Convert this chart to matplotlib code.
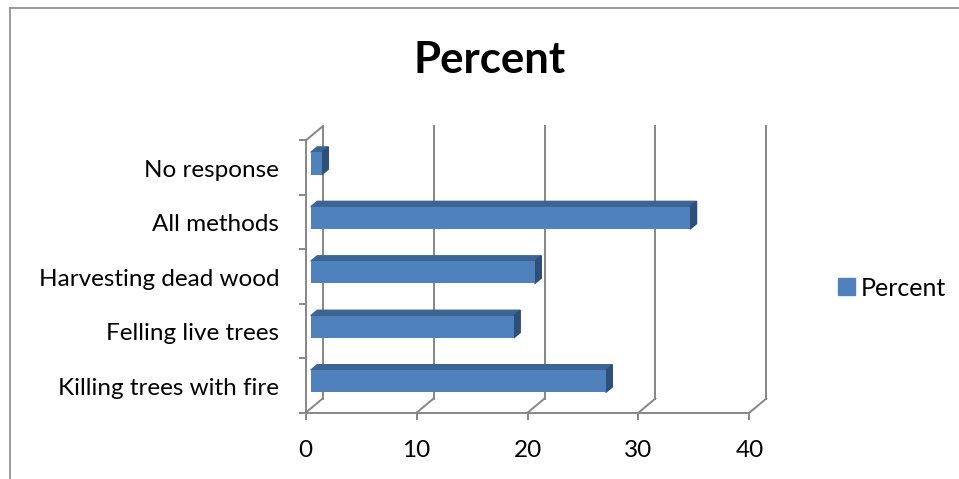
import matplotlib.pyplot as plt
from matplotlib.patches import Polygon, Patch
from matplotlib.lines import Line2D

categories = ['Killing trees with fire', 'Felling live trees', 'Harvesting dead wood',
              'All methods', 'No response']
percent = [26.6, 18.3, 20.2, 34.2, 1.0]
x_ticks = [0, 10, 20, 30, 40]

plt.rcParams['font.family'] = ['Lato', 'DejaVu Sans']

# depth of the 3-d box (data units) and where the bars sit inside it
DX, DY = 1.53, 0.26
F0, F1 = 0.30, 0.68
BAR_H = 0.41
GRID = '#868686'
FRONT, TOP, SIDE = '#4f81bd', '#3c6595', '#2d4f7a'
FS = 17.5

fig = plt.figure(figsize=(9.59, 4.79), dpi=100)
ax = fig.add_axes([0.3072, 0.1157, 0.5089, 0.6365])
ax.set_xlim(-1, 43)
ax.set_ylim(-0.7, 4.9)
ax.axis('off')

n = len(categories)
ybot, ytop = -0.5, n - 0.5

# walls and floor
for t in x_ticks:
    ax.plot([t + DX, t + DX], [ybot + DY, ytop + DY], color=GRID, lw=1.4, zorder=1)
    ax.plot([t, t + DX], [ybot, ybot + DY], color=GRID, lw=1.4, zorder=1)
    ax.plot([t, t], [ybot, ybot - 0.11], color=GRID, lw=1.4, zorder=1)
    ax.text(t, ybot - 0.69, str(t), ha='center', va='center', fontsize=FS)
ax.plot([x_ticks[0], x_ticks[-1]], [ybot, ybot], color=GRID, lw=1.4, zorder=1)
ax.plot([0, 0], [ybot, ytop], color=GRID, lw=1.4, zorder=1)
ax.plot([0, DX], [ytop, ytop + DY], color=GRID, lw=1.4, zorder=1)
for k in range(n + 1):
    ax.plot([-0.55, 0], [k - 0.5, k - 0.5], color=GRID, lw=1.4, zorder=1)

# bars: front face + top + right side
d = F1 - F0
for i, (name, v) in enumerate(zip(categories, percent)):
    yc = i + F0 * DY
    x0 = F0 * DX
    ax.barh(yc, v, left=x0, height=BAR_H, color=FRONT, zorder=3)
    y1, y2 = yc - BAR_H / 2, yc + BAR_H / 2
    ax.add_patch(Polygon([(x0, y2), (x0 + v, y2), (x0 + v + d * DX, y2 + d * DY),
                          (x0 + d * DX, y2 + d * DY)], closed=True, color=TOP, zorder=2))
    ax.add_patch(Polygon([(x0 + v, y1), (x0 + v + d * DX, y1 + d * DY),
                          (x0 + v + d * DX, y2 + d * DY), (x0 + v, y2)],
                         closed=True, color=SIDE, zorder=2))
    ax.text(-2.4, i - 0.05, name, ha='right', va='center', fontsize=FS)

fig.text(0.511, 1 - 60 / 479, 'Percent', ha='center', va='center',
         fontsize=31.5, fontweight='bold')

fig.legend(handles=[Patch(color=FRONT, label='Percent')], loc='center left',
           bbox_to_anchor=(0.8638, 1 - 288 / 479), frameon=False, fontsize=18,
           handlelength=0.65, handleheight=0.65, handletextpad=0.25, borderaxespad=0)

# chart area border (top and left edges)
fig.add_artist(Line2D([9.5 / 959, 1], [1 - 7.5 / 479] * 2, color='#8a8a8a', lw=1.2))
fig.add_artist(Line2D([9.5 / 959] * 2, [0, 1 - 7.5 / 479], color='#8a8a8a', lw=1.2))

fig.savefig('out.png', dpi=100)
